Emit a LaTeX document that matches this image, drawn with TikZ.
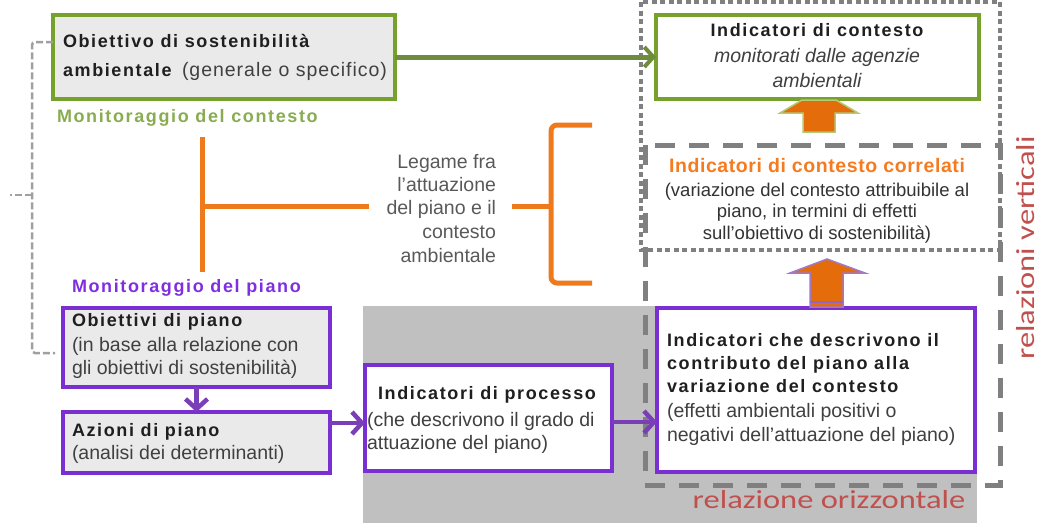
\documentclass[tikz,border=0pt]{standalone}
\usepackage{fontspec}
\setmainfont{Liberation Sans}
\newfontfamily\redfont[FakeStretch=1.25]{Carlito}
\usetikzlibrary{arrows.meta}
\definecolor{gborder}{HTML}{76A22B}
\definecolor{gtext}{HTML}{88AC4F}
\definecolor{garrow}{HTML}{6D8C3C}
\definecolor{pborder}{HTML}{7A2FD2}
\definecolor{ptext}{HTML}{7F2EE0}
\definecolor{parrow}{HTML}{7A3EB6}
\definecolor{oline}{HTML}{EE7A1C}
\definecolor{otext}{HTML}{F47B20}
\definecolor{ofill}{HTML}{E46C0A}
\definecolor{redt}{HTML}{C0504D}
\definecolor{bggrey}{HTML}{C0C0C0}
\definecolor{boxfill}{HTML}{EAEAEA}
\definecolor{dgrey}{HTML}{808080}
\definecolor{lgrey}{HTML}{A0A0A0}
\definecolor{txt}{HTML}{404040}
\definecolor{btxt}{HTML}{1F1F1F}
\definecolor{legtxt}{HTML}{595959}
\tikzset{
  box/.style={line width=3.5pt, outer sep=0pt, inner sep=0pt, anchor=north west},
  gbox/.style={box, draw=gborder},
  pbox/.style={box, draw=pborder},
  rt/.style={inner sep=0pt, outer sep=0pt, text height=13.5pt, text depth=4pt,
    font=\fontsize{19.5}{23.5}\selectfont, text=txt},
  bt/.style={rt, font=\fontsize{18}{23.5}\selectfont\bfseries\addfontfeature{LetterSpace=9}, text=btxt},
  it/.style={rt, font=\fontsize{19.5}{23.5}\selectfont\itshape},
  lt/.style={rt, text=legtxt, anchor=east},
  ct/.style={rt, font=\fontsize{18.5}{23.5}\selectfont, text=black!80},
  redlbl/.style={inner sep=1pt, text=redt, font=\redfont\fontsize{26}{30}\selectfont},
  garr/.style={draw=garrow, line width=5pt, -{Straight Barb[length=9pt,width=20pt,line width=4pt]}},
  parr/.style={draw=parrow, line width=4.5pt, -{Straight Barb[length=10pt,width=22pt,line width=4.5pt]}},
  oln/.style={draw=oline, line width=5pt},
  dashbox/.style={draw=dgrey, line width=5pt, dash pattern=on 20pt off 14pt},
  dotbox/.style={draw=dgrey, line width=4pt, dash pattern=on 5pt off 3.5pt},
  ldash/.style={draw=lgrey, line width=2.5pt, dash pattern=on 7pt off 3pt, rounded corners=3pt},
  blockarrow/.style={fill=ofill, line width=1.5pt},
}
\begin{document}
\begin{tikzpicture}[x=1pt,y=-1pt]
\useasboundingbox (0,0) rectangle (1040,523);
% grey background
\fill[bggrey] (363,306) rectangle (977,523);
% dashed and dotted frames
\draw[dashbox] (645,145) rectangle (1000,485);
\draw[dotbox] (641,2) rectangle (1000,250);

% boxes
\node[gbox, fill=boxfill, minimum width=342pt, minimum height=84pt] (obs) at (53,15) {};
\node[gbox, fill=white, minimum width=323pt, minimum height=84pt] (ic) at (656,15) {};
\node[pbox, fill=boxfill, minimum width=267pt, minimum height=79pt] (ob) at (63,308) {};
\node[pbox, fill=boxfill, minimum width=267pt, minimum height=61pt] (az) at (63,412) {};
\node[pbox, fill=white, minimum width=247pt, minimum height=106pt] (pr) at (365,365) {};
\node[pbox, fill=white, minimum width=318pt, minimum height=164pt] (ic2) at (657,308) {};

% texts: obiettivo di sostenibilita
\node[bt, anchor=west] (obs1) at (63,43) {Obiettivo di sostenibilità};
\node[bt, anchor=west] (obs2) at (63,72) {ambientale};
\node[rt, anchor=west, font=\fontsize{19.5}{23.5}\selectfont\addfontfeature{LetterSpace=5}] (obs3) at (182,72) {(generale o specifico)};
\node[bt, anchor=west, text=gtext] (mc) at (57,118) {Monitoraggio del contesto};

% indicatori di contesto
\node[bt] (ic1) at (817,32) {Indicatori di contesto};
\node[it] (ic2t) at (817,58) {monitorati dalle agenzie};
\node[it] (ic3t) at (817,83) {ambientali};

% indicatori di contesto correlati
\node[bt, text=otext, font=\fontsize{19.5}{23.5}\selectfont\bfseries\addfontfeature{LetterSpace=3}] (icc1) at (817,168) {Indicatori di contesto correlati};
\node[ct] (icc2) at (817,192) {(variazione del contesto attribuibile al};
\node[ct] (icc3) at (817,213) {piano, in termini di effetti};
\node[ct] (icc4) at (817,235) {sull'obiettivo di sostenibilità)};

% legame
\node[lt] (lg1) at (496,164) {Legame fra};
\node[lt] (lg2) at (496,187) {l'attuazione};
\node[lt] (lg3) at (496,210) {del piano e il};
\node[lt] (lg4) at (496,234) {contesto};
\node[lt] (lg5) at (496,258) {ambientale};

% monitoraggio del piano
\node[bt, anchor=west, text=ptext] (mp) at (72,288) {Monitoraggio del piano};
\node[bt, anchor=west] (ob1) at (72,322) {Obiettivi di piano};
\node[rt, anchor=west] (ob2) at (72,347) {(in base alla relazione con};
\node[rt, anchor=west] (ob3) at (72,370) {gli obiettivi di sostenibilità)};
\node[bt, anchor=west] (az1) at (72,432) {Azioni di piano};
\node[rt, anchor=west] (az2) at (72,455) {(analisi dei determinanti)};

% processo
\node[bt] (pr1) at (487,395) {Indicatori di processo};
\node[rt, anchor=west] (pr2) at (367,422) {(che descrivono il grado di};
\node[rt, anchor=west] (pr3) at (367,445) {attuazione del piano)};

% contributo
\node[bt, anchor=west] (c1) at (667,342) {Indicatori che descrivono il};
\node[bt, anchor=west] (c2) at (667,365) {contributo del piano alla};
\node[bt, anchor=west] (c3) at (667,388) {variazione del contesto};
\node[rt, anchor=west] (c4) at (667,413) {(effetti ambientali positivi o};
\node[rt, anchor=west] (c5) at (667,437) {negativi dell'attuazione del piano)};

% red labels
\node[redlbl] (ro) at (829,500) {relazione orizzontale};
\node[redlbl, rotate=90] (rv) at (1026,248) {relazioni verticali};

% connectors
\draw[garr] (obs.east) -- (ic.west);
\draw[parr] (ob.south) -- (az.north);
\coordinate (pa) at ([yshift=-5pt]pr.west);
\draw[parr] (az.east |- pa) -- (pa);
\coordinate (pb) at ([yshift=-4pt]pr.east);
\draw[parr] (pb) -- (pb -| ic2.west);

% left dashed bracket
\coordinate (lb1) at (53,42);
\coordinate (lbx) at (32,195);
\coordinate (lb2) at (55,353);
\coordinate (lbt) at (10,195);
\draw[ldash] (lb1) -| (lbx) |- (lb2);
\draw[ldash] (lbx) -- (lbt);

% orange link
\coordinate (ot1) at (202,137);
\coordinate (ot2) at (202,272);
\coordinate (otm) at (202,206);
\coordinate (otr) at (369,206);
\coordinate (obl) at (512,206);
\coordinate (obm) at (551,206);
\coordinate (obt) at (592,125);
\coordinate (obb) at (592,283);
\draw[oln] (ot1) -- (ot2);
\draw[oln] (otm) -- (otr);
\draw[oln] (obl) -- (obm);
\draw[oln, rounded corners=6pt] (obt) -- (551,125) -- (551,283) -- (obb);

% block arrows
\draw[blockarrow, draw=olive!60!green!50!white] (803,132) -- (803,113) -- (780,113) -- (802,100) -- (836,100) -- (858,113) -- (835,113) -- (835,132) -- cycle;
\draw[blockarrow, draw=parrow!70!white] (810,307) -- (810,273) -- (790,273) -- (827,259) -- (865,273) -- (843,273) -- (843,307) -- cycle;
\draw[draw=parrow!80!white, line width=2pt] (810,302) -- (843,302);
\end{tikzpicture}
\end{document}
